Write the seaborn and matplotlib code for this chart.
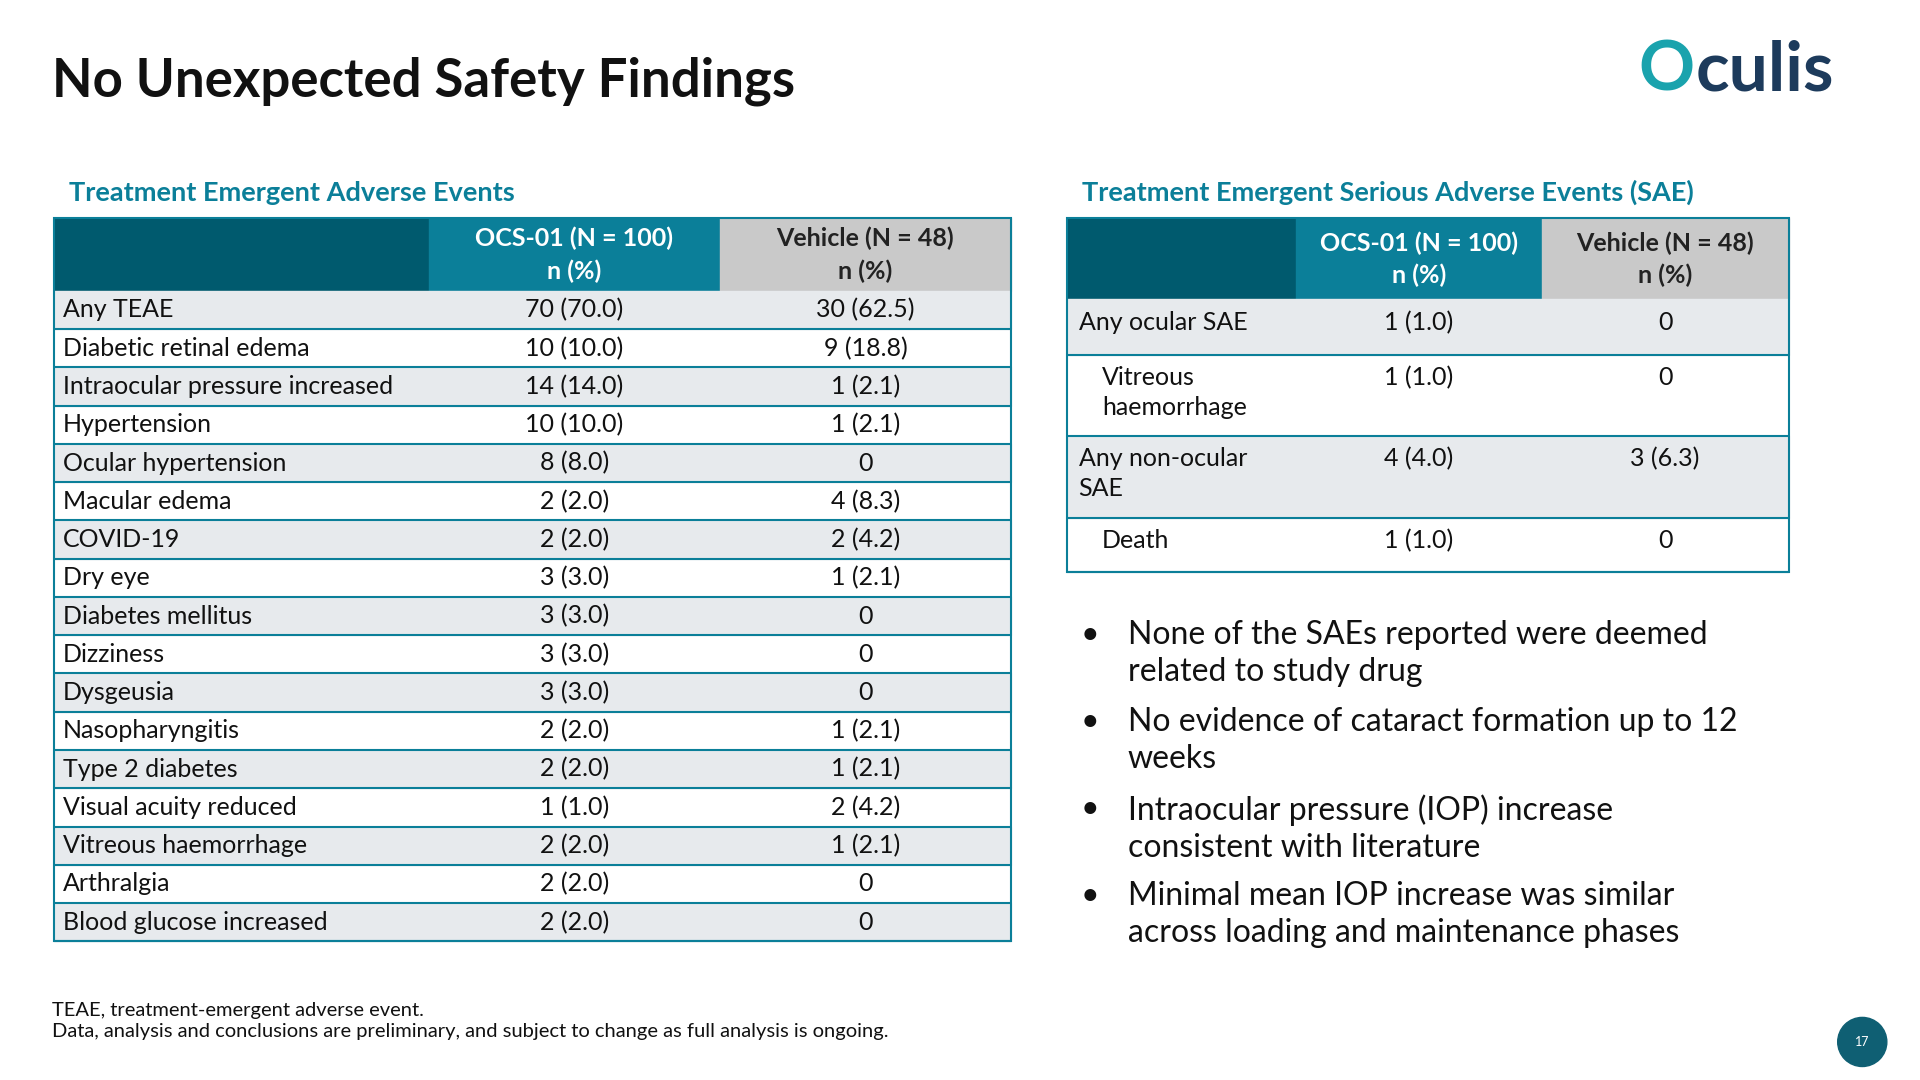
import matplotlib.pyplot as plt
import seaborn as sns
from matplotlib.patches import Rectangle, Circle

sns.set_theme(style="white")
plt.rcParams['font.family'] = ['Lato', 'DejaVu Sans']

# data
teae_events = ["Any TEAE", "Diabetic retinal edema", "Intraocular pressure increased", "Hypertension",
               "Ocular hypertension", "Macular edema", "COVID-19", "Dry eye", "Diabetes mellitus",
               "Dizziness", "Dysgeusia", "Nasopharyngitis", "Type 2 diabetes", "Visual acuity reduced",
               "Vitreous haemorrhage", "Arthralgia", "Blood glucose increased"]
teae_ocs = ["70 (70.0)", "10 (10.0)", "14 (14.0)", "10 (10.0)", "8 (8.0)", "2 (2.0)", "2 (2.0)", "3 (3.0)",
            "3 (3.0)", "3 (3.0)", "3 (3.0)", "2 (2.0)", "2 (2.0)", "1 (1.0)", "2 (2.0)", "2 (2.0)", "2 (2.0)"]
teae_vehicle = ["30 (62.5)", "9 (18.8)", "1 (2.1)", "1 (2.1)", "0", "4 (8.3)", "2 (4.2)", "1 (2.1)", "0",
                "0", "0", "1 (2.1)", "1 (2.1)", "2 (4.2)", "1 (2.1)", "0", "0"]
sae_events = ["Any ocular SAE", "Vitreous\nhaemorrhage", "Any non-ocular\nSAE", "Death"]
sae_indent = [False, True, False, True]
sae_ocs = ["1 (1.0)", "1 (1.0)", "4 (4.0)", "1 (1.0)"]
sae_vehicle = ["0", "0", "3 (6.3)", "0"]
bullets = ["None of the SAEs reported were deemed\nrelated to study drug",
           "No evidence of cataract formation up to 12\nweeks",
           "Intraocular pressure (IOP) increase\nconsistent with literature",
           "Minimal mean IOP increase was similar\nacross loading and maintenance phases"]

DARK = "#005a6e"
TEAL = "#0b7f99"
GREY = "#c9c9c9"
SHADE = "#e7eaed"
FS = 18

fig = plt.figure(figsize=(19.2, 10.8), dpi=100)
ax = fig.add_axes([0, 0, 1, 1])
ax.set_xlim(0, 1563)
ax.set_ylim(880, 0)
ax.axis("off")


def header(x0, x1, x2, x3, y0, y1):
    ax.add_patch(Rectangle((x0, y0), x1 - x0, y1 - y0, color=DARK))
    ax.add_patch(Rectangle((x1, y0), x2 - x1, y1 - y0, color=TEAL))
    ax.add_patch(Rectangle((x2, y0), x3 - x2, y1 - y0, color=GREY))
    ax.text((x1 + x2) / 2, (y0 + y1) / 2, "OCS-01 (N = 100)\nn (%)", color="white", ha="center",
            va="center", fontsize=FS, fontweight="bold", linespacing=1.45)
    ax.text((x2 + x3) / 2, (y0 + y1) / 2, "Vehicle (N = 48)\nn (%)", color="#222222", ha="center",
            va="center", fontsize=FS, fontweight="bold", linespacing=1.45)


# left table
lx = [44, 349, 586, 823]
top, hb, bottom = 178, 237, 767
header(*lx, top, hb)
rh = (bottom - hb) / len(teae_events)
for i, (ev, a, b) in enumerate(zip(teae_events, teae_ocs, teae_vehicle)):
    y = hb + i * rh
    if i % 2 == 0:
        ax.add_patch(Rectangle((lx[0], y), lx[3] - lx[0], rh, color=SHADE))
    ax.plot([lx[0], lx[3]], [y + rh, y + rh], color=TEAL, lw=1.5)
    ax.text(lx[0] + 7, y + rh / 2, ev, va="center", fontsize=FS, color="#111111")
    ax.text((lx[1] + lx[2]) / 2, y + rh / 2, a, va="center", ha="center", fontsize=FS, color="#111111")
    ax.text((lx[2] + lx[3]) / 2, y + rh / 2, b, va="center", ha="center", fontsize=FS, color="#111111")
ax.add_patch(Rectangle((lx[0], top), lx[3] - lx[0], bottom - top, fill=False, ec=TEAL, lw=1.5))
ax.text(56, 157, "Treatment Emergent Adverse Events", color=TEAL, fontsize=19.5, fontweight="bold",
        va="center")

# right table
rx = [869, 1055, 1255, 1456]
rtop, rhb = 178, 244
header(*rx, rtop, rhb)
row_edges = [244, 289, 355, 422, 466]
for i, (ev, a, b) in enumerate(zip(sae_events, sae_ocs, sae_vehicle)):
    y0, y1 = row_edges[i], row_edges[i + 1]
    if i % 2 == 0:
        ax.add_patch(Rectangle((rx[0], y0), rx[3] - rx[0], y1 - y0, color=SHADE))
    ax.plot([rx[0], rx[3]], [y1, y1], color=TEAL, lw=1.5)
    xt = rx[0] + (28 if sae_indent[i] else 9)
    ax.text(xt, y0 + 9, ev, va="top", fontsize=FS, color="#111111", linespacing=1.4)
    ax.text((rx[1] + rx[2]) / 2, y0 + 9, a, va="top", ha="center", fontsize=FS, color="#111111")
    ax.text((rx[2] + rx[3]) / 2, y0 + 9, b, va="top", ha="center", fontsize=FS, color="#111111")
ax.add_patch(Rectangle((rx[0], rtop), rx[3] - rx[0], row_edges[-1] - rtop, fill=False, ec=TEAL, lw=1.5))
ax.text(881, 157, "Treatment Emergent Serious Adverse Events (SAE)", color=TEAL, fontsize=19.5,
        fontweight="bold", va="center")

# bullets
for i, b in enumerate(bullets):
    y = 505 + i * 71
    ax.text(880, y, "•", fontsize=23, va="top", color="#111111")
    ax.text(918, y, b, fontsize=23, va="top", color="#111111", linespacing=1.3)

# title, footnote, logo, page number
ax.text(42, 66, "No Unexpected Safety Findings", fontsize=38, fontweight="bold", va="center",
        color="#111111")
ax.text(42, 832, "TEAE, treatment-emergent adverse event.\n"
        "Data, analysis and conclusions are preliminary, and subject to change as full analysis is ongoing.",
        fontsize=14.5, va="center", color="#111111", linespacing=1.3)
ax.text(1334, 58, "O", fontsize=50, fontweight="bold", va="center", color="#1aa3ad")
ax.text(1380, 58, "culis", fontsize=50, fontweight="bold", va="center", color="#1d3b5c")
ax.add_patch(Circle((1516, 849), 20, color="#0f5f73"))
ax.text(1516, 849, "17", color="white", fontsize=9, ha="center", va="center")

fig.savefig("out.png", dpi=100)
